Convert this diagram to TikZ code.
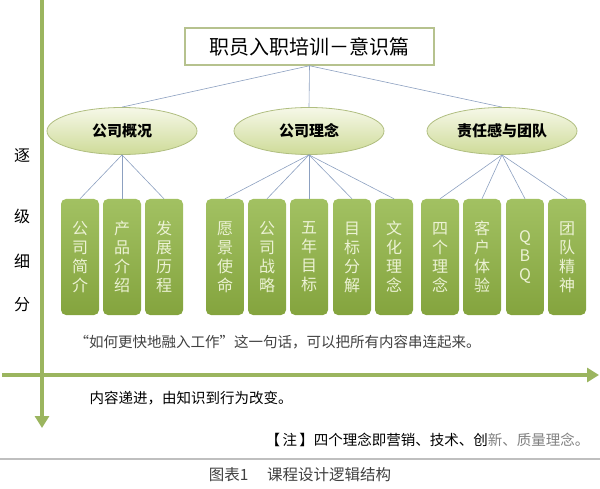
\documentclass[tikz,border=0pt]{standalone}
\usepackage{fontspec}
\setmainfont{Noto Sans CJK SC}
\definecolor{axisgreen}{RGB}{155, 181, 95}
\definecolor{bartop}{RGB}{162, 193, 98}
\definecolor{barbot}{RGB}{132, 164, 62}
\definecolor{bartext}{RGB}{236, 242, 212}
\definecolor{ovaltop}{RGB}{246, 248, 232}
\definecolor{ovalbot}{RGB}{206, 219, 152}
\definecolor{ovaldraw}{RGB}{176, 190, 128}
\definecolor{framegreen}{RGB}{182, 194, 142}
\definecolor{linkblue}{RGB}{140, 160, 192}
\usetikzlibrary{shapes.geometric, arrows.meta}

\begin{document}
\begin{tikzpicture}[x=1pt, y=-1pt,
  oval/.style={ellipse, draw=ovaldraw, line width=0.8pt, top color=ovaltop, bottom color=ovalbot, minimum width=150pt, minimum height=47pt, inner sep=0pt, font=\fontsize{15}{15}\selectfont\bfseries},
  bar/.style={rounded corners=5pt, top color=bartop, bottom color=barbot, minimum width=38pt, minimum height=116pt, inner sep=0pt, align=center, text=bartext, font=\fontsize{16}{19}\selectfont},
  link/.style={draw=linkblue, line width=0.6pt},
  axis/.style={draw=axisgreen, line width=3.5pt, -{Triangle[length=12pt, width=14pt]}},
  note/.style={font=\fontsize{14.5}{14.5}\selectfont}
]
  \useasboundingbox (0,0) rectangle (600,489);

  % Axes
  \coordinate (vtop) at (42,0);
  \coordinate (vend) at (42,428);
  \coordinate (hstart) at (2,375);
  \coordinate (hend) at (599,375);
  \draw[axis] (vtop) -- (vend);
  \draw[axis] (hstart) -- (hend);

  % Axis label
  \node[font=\fontsize{16}{16}\selectfont] (zhu) at (22,156) {逐};
  \node[font=\fontsize{16}{16}\selectfont] (ji) at (22,216) {级};
  \node[font=\fontsize{16}{16}\selectfont] (xi) at (22,261) {细};
  \node[font=\fontsize{16}{16}\selectfont] (fen) at (22,305) {分};

  % Title
  \node[draw=framegreen, line width=1.5pt, fill=white, minimum width=249pt, minimum height=37pt, font=\fontsize{20}{20}\selectfont] (title) at (309.5,46.5) {职员入职培训－意识篇};

  % Topics
  \node[oval] (overview) at (122,131) {公司概况};
  \node[oval] (idea) at (309,131) {公司理念};
  \node[oval] (team) at (502,131) {责任感与团队};

  \draw[link] (title.south) -- (overview.north);
  \draw[link] (title.south) -- (idea.north);
  \draw[link] (title.south) -- (team.north);

  % Items
  \node[bar] (intro) at (80,257) {公\\司\\简\\介};
  \node[bar] (product) at (122,257) {产\\品\\介\\绍};
  \node[bar] (history) at (164,257) {发\\展\\历\\程};

  \node[bar] (vision) at (225,257) {愿\\景\\使\\命};
  \node[bar] (strategy) at (267,257) {公\\司\\战\\略};
  \node[bar] (fiveyear) at (309,257) {五\\年\\目\\标};
  \node[bar] (goals) at (352,257) {目\\标\\分\\解};
  \node[bar] (culture) at (394,257) {文\\化\\理\\念};

  \node[bar] (concepts) at (440,257) {四\\个\\理\\念};
  \node[bar] (client) at (482,257) {客\\户\\体\\验};
  \node[bar] (qbq) at (525,257) {Q\\B\\Q};
  \node[bar] (spirit) at (567,257) {团\\队\\精\\神};

  \draw[link] (overview.south) -- (intro.north);
  \draw[link] (overview.south) -- (product.north);
  \draw[link] (overview.south) -- (history.north);

  \draw[link] (idea.south) -- (vision.north);
  \draw[link] (idea.south) -- (strategy.north);
  \draw[link] (idea.south) -- (fiveyear.north);
  \draw[link] (idea.south) -- (goals.north);
  \draw[link] (idea.south) -- (culture.north);

  \draw[link] (team.south) -- (concepts.north);
  \draw[link] (team.south) -- (client.north);
  \draw[link] (team.south) -- (qbq.north);
  \draw[link] (team.south) -- (spirit.north);

  % Remarks
  \node[note, anchor=west, text=black!75] (thread) at (71,342) {“如何更快地融入工作”这一句话，可以把所有内容串连起来。};
  \node[note, anchor=west] (progress) at (86,398) {内容递进，由知识到行为改变。};
  \node[note, anchor=east] (remark) at (593,440) {【\,注\,】四个理念即营销、技术、创\textcolor{black!50}{新、质量理念。}};

  % Caption
  \coordinate (rulel) at (0,459);
  \coordinate (ruler) at (600,459);
  \draw[black!25, line width=1.5pt] (rulel) -- (ruler);
  \node[font=\fontsize{15.5}{15.5}\selectfont, text=black!75] (caption) at (300,475) {图表1\hspace{1.2em}课程设计逻辑结构};
\end{tikzpicture}
\end{document}
